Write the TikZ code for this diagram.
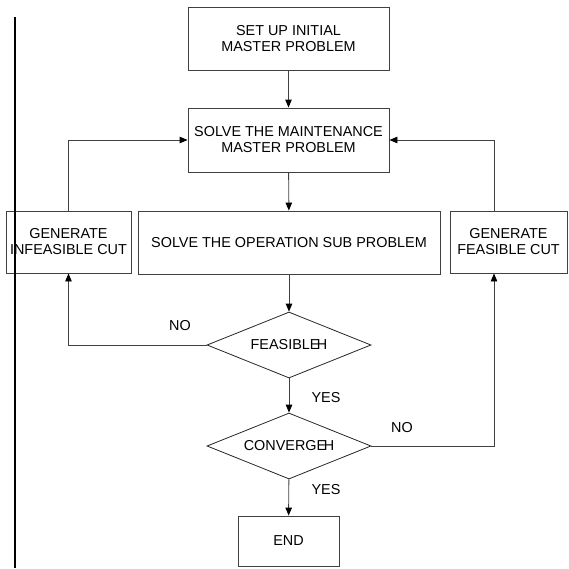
\documentclass[tikz,border=0pt]{standalone}
\usepackage{fontspec}
\setmainfont{Liberation Sans}
\usetikzlibrary{arrows.meta,shapes.geometric}
\begin{document}
\begin{tikzpicture}[x=1pt,y=-1pt,
  txt/.style={font=\fontsize{14.4}{16}\selectfont},
  box/.style={txt,draw=black!75,line width=0.9pt,inner sep=0pt,align=center},
  dia/.style={txt,draw=black!85,line width=0.8pt,diamond,inner sep=0pt,shape aspect=2.48,minimum width=164pt,minimum height=66pt},
  arr/.style={draw=black!75,line width=0.9pt,-{Triangle[length=8pt,width=6.5pt,fill=black,color=black]}},
  lbl/.style={txt}]
\useasboundingbox (0,0) rectangle (569,568);
\node[box,minimum width=201pt,minimum height=63pt] (init) at (288.5,38.5) {SET UP INITIAL\\MASTER PROBLEM};
\node[box,minimum width=201pt,minimum height=64pt] (master) at (288.5,140) {SOLVE THE MAINTENANCE\\MASTER PROBLEM};
\node[box,minimum width=302pt,minimum height=63pt] (sub) at (289,242.5) {SOLVE THE OPERATION SUB PROBLEM};
\node[box,minimum width=125pt,minimum height=62pt] (infeas) at (68.5,242) {GENERATE\\INFEASIBLE CUT};
\node[box,minimum width=117pt,minimum height=62pt] (feascut) at (508.5,242) {GENERATE\\FEASIBLE CUT};
\node[dia] (fdia) at (289,345) {FEASIBLE\kern-2.5pt H};
\node[dia] (cdia) at (289,446) {CONVERGE\kern-2.5pt H};
\node[box,minimum width=101pt,minimum height=50pt] (end) at (288.5,541) {END};
\draw[arr] (init) -- (master);
\draw[arr] (master) -- (sub);
\draw[arr] (infeas.north) |- (master.west);
\draw[arr] ([xshift=-14.5pt]feascut.north) |- (master.east);
\draw[arr] (sub) -- (fdia);
\draw[arr] (fdia.west) -| (infeas.south);
\draw[arr] (fdia) -- (cdia);
\draw[arr] (cdia.east) -| ([xshift=-14.5pt]feascut.south);
\draw[arr] (cdia) -- (end);
\node[lbl] (no1) at (180,326) {NO};
\node[lbl] (yes1) at (326,398) {YES};
\node[lbl] (no2) at (402,428) {NO};
\node[lbl] (yes2) at (326,490) {YES};
\draw[line width=2.2pt] (15,17) -- (15,568);
\end{tikzpicture}
\end{document}
